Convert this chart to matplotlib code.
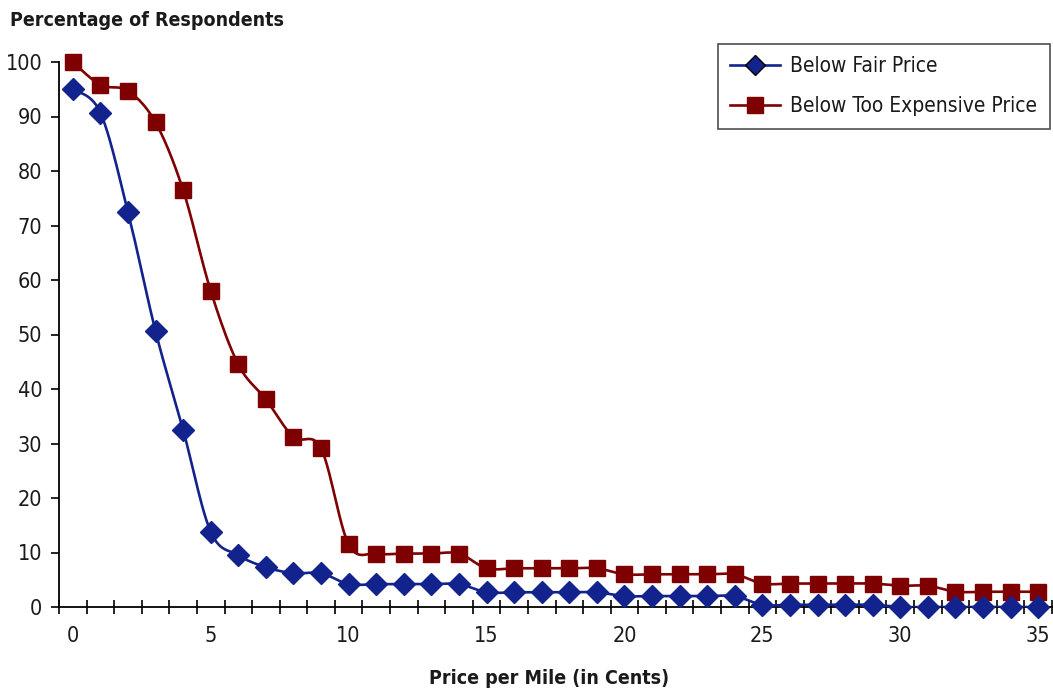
import numpy as np
import matplotlib
matplotlib.use("Agg")
import matplotlib.pyplot as plt
from matplotlib.lines import Line2D
from matplotlib.ticker import FixedLocator, NullFormatter, FixedFormatter

plt.rcParams['font.family'] = ['Liberation Sans Narrow', 'DejaVu Sans']
plt.rcParams['font.stretch'] = 'condensed'

# Price per mile in cents (one category per cent)
price_cents = list(range(0, 36))

# Share of respondents for whom each price is below their "fair" price
below_fair = [95.0, 90.7, 72.5, 50.6, 32.5, 13.8, 9.5, 7.3, 6.2, 6.2,
              4.2, 4.2, 4.2, 4.2, 4.2, 2.7, 2.7, 2.7, 2.7, 2.7,
              2.0, 2.0, 2.0, 2.0, 2.0, 0.4, 0.4, 0.4, 0.4, 0.4,
              0.0, 0.0, 0.0, 0.0, 0.0, 0.0]

# Share of respondents for whom each price is below their "too expensive" price
below_too_expensive = [100.0, 95.8, 94.7, 88.9, 76.5, 58.0, 44.5, 38.1, 31.2, 29.1,
                       11.5, 9.8, 9.8, 9.8, 9.8, 7.1, 7.1, 7.1, 7.1, 7.1,
                       6.0, 6.0, 6.0, 6.0, 6.0, 4.3, 4.3, 4.3, 4.3, 4.3,
                       3.9, 3.9, 2.8, 2.8, 2.8, 2.8]

x_label_values = [0, 5, 10, 15, 20, 25, 30, 35]
y_tick_values = [0, 10, 20, 30, 40, 50, 60, 70, 80, 90, 100]

BLUE = "#13238d"
RED = "#7e0000"
TEXT = "#1a1a1a"


def smooth(xs, ys, n=24):
    """Catmull-Rom style smoothing through every point (cubic Bezier segments)."""
    xs = np.asarray(xs, float)
    ys = np.asarray(ys, float)
    px = np.concatenate([[xs[0]], xs, [xs[-1]]])
    py = np.concatenate([[ys[0]], ys, [ys[-1]]])
    out_x, out_y = [], []
    t = np.linspace(0, 1, n, endpoint=False)
    for i in range(1, len(px) - 2):
        p0 = np.array([px[i], py[i]])
        p3 = np.array([px[i + 1], py[i + 1]])
        c1 = p0 + (np.array([px[i + 1], py[i + 1]]) - np.array([px[i - 1], py[i - 1]])) / 6.0
        c2 = p3 - (np.array([px[i + 2], py[i + 2]]) - p0) / 6.0
        b = ((1 - t) ** 3)[:, None] * p0 + (3 * (1 - t) ** 2 * t)[:, None] * c1 \
            + (3 * (1 - t) * t ** 2)[:, None] * c2 + (t ** 3)[:, None] * p3
        out_x.extend(b[:, 0])
        out_y.extend(b[:, 1])
    out_x.append(xs[-1])
    out_y.append(ys[-1])
    return np.array(out_x), np.array(out_y)


fig = plt.figure(figsize=(10.53, 6.92), dpi=100)
ax = fig.add_axes([59 / 1053, 1 - 607 / 692, (1052 - 59) / 1053, (607 - 62) / 692])

sx, sy = smooth(price_cents, below_too_expensive)
ax.plot(sx, sy, color=RED, lw=1.9, zorder=2)
ax.plot(price_cents, below_too_expensive, ls='none', marker='s', ms=11,
        color=RED, mec=RED, zorder=3, clip_on=False)

sx, sy = smooth(price_cents, below_fair)
ax.plot(sx, sy, color=BLUE, lw=1.9, zorder=4)
ax.plot(price_cents, below_fair, ls='none', marker='D', ms=11,
        color=BLUE, mec=BLUE, zorder=5, clip_on=False)

ax.set_xlim(-0.5, 35.5)
ax.set_ylim(0, 100)

for side in ('top', 'right'):
    ax.spines[side].set_visible(False)
for side in ('left', 'bottom'):
    ax.spines[side].set_linewidth(1.3)
    ax.spines[side].set_color('black')

# Category boundaries carry the tick marks; labels sit under every fifth category
ax.xaxis.set_major_locator(FixedLocator(np.arange(-0.5, 36, 1.0)))
ax.xaxis.set_major_formatter(NullFormatter())
ax.xaxis.set_minor_locator(FixedLocator(x_label_values))
ax.xaxis.set_minor_formatter(FixedFormatter([str(v) for v in x_label_values]))
ax.tick_params(axis='x', which='major', direction='inout', length=10, width=1.2, color='black')
ax.tick_params(axis='x', which='minor', length=0, pad=14, labelsize=15.5, labelcolor=TEXT)

ax.set_yticks(y_tick_values)
ax.tick_params(axis='y', direction='out', length=6, width=1.2, pad=6,
               labelsize=15.5, labelcolor=TEXT)

fig.text(10 / 1053, 1 - 20 / 692, "Percentage of Respondents", ha='left', va='center',
         fontsize=14, fontweight='bold', color=TEXT)
fig.text(549 / 1053, 1 - 678 / 692, "Price per Mile (in Cents)", ha='center', va='center',
         fontsize=14, fontweight='bold', color=TEXT)

handles = [
    Line2D([], [], color=BLUE, lw=1.9, marker='D', ms=10, mfc=BLUE, mec='black', mew=1.0),
    Line2D([], [], color=RED, lw=1.9, marker='s', ms=11, mfc=RED, mec=RED),
]
leg = ax.legend(handles, ["Below Fair Price", "Below Too Expensive Price"],
                loc='upper right', bbox_to_anchor=(1050 / 1053, 1 - 44 / 692),
                bbox_transform=fig.transFigure, fontsize=15, frameon=True,
                fancybox=False, edgecolor='#222222', handlelength=2.4,
                handletextpad=0.5, labelspacing=0.95, borderpad=0.6, borderaxespad=0)
leg.get_frame().set_linewidth(1.2)
for t in leg.get_texts():
    t.set_color(TEXT)

fig.savefig("out.png", dpi=100)
